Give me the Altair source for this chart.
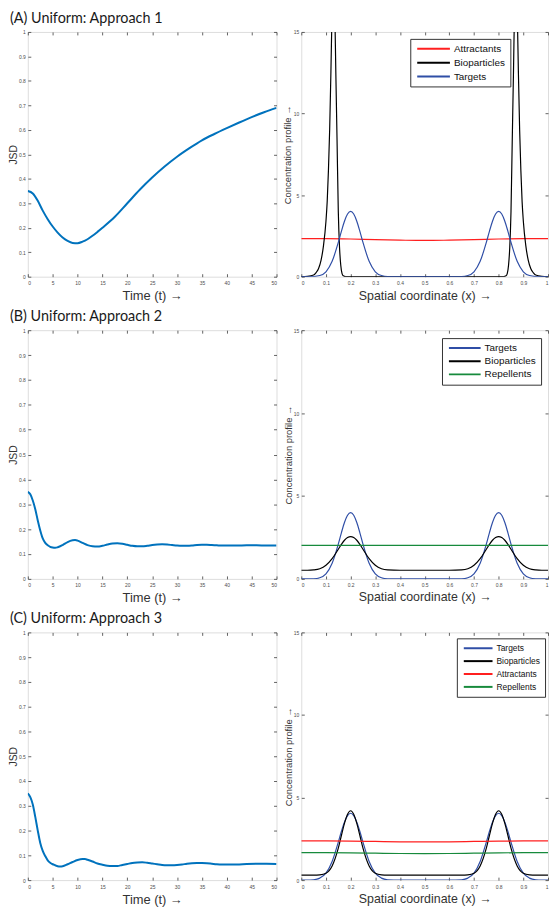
import altair as alt
import pandas as pd

# ---------------- JSD time series (left column) ----------------
t_A = [0, 1, 2, 3, 4, 5, 6, 7, 8, 9, 10, 11, 12, 13, 14, 15, 17.5, 20, 22.5, 25,
       27.5, 30, 32.5, 35, 37.5, 40, 42.5, 45, 47.5, 50]
jsd_A = [0.35, 0.34, 0.31, 0.27, 0.235, 0.205, 0.18, 0.16, 0.146, 0.138, 0.137, 0.143,
         0.153, 0.167, 0.183, 0.2, 0.245, 0.3, 0.355, 0.405, 0.45, 0.49, 0.525, 0.557,
         0.583, 0.607, 0.63, 0.652, 0.672, 0.69]

t_B = [0, 0.5, 1, 1.5, 2, 2.5, 3, 3.5, 4, 4.5, 5, 5.5, 6, 7, 8, 9, 9.5, 10, 11, 12,
       13, 14, 15, 16, 17, 18, 19, 20, 21, 22, 23, 24, 25, 26, 27, 28, 29, 30, 31, 32,
       33, 34, 35, 36, 37, 38, 39, 40, 42, 44, 46, 48, 50]
jsd_B = [0.35, 0.34, 0.315, 0.28, 0.235, 0.195, 0.163, 0.145, 0.135, 0.129, 0.126, 0.125,
         0.127, 0.136, 0.148, 0.155, 0.156, 0.154, 0.145, 0.136, 0.131, 0.13, 0.133, 0.138,
         0.142, 0.143, 0.141, 0.137, 0.133, 0.131, 0.131, 0.133, 0.136, 0.138, 0.139, 0.138,
         0.136, 0.134, 0.133, 0.133, 0.134, 0.136, 0.137, 0.137, 0.136, 0.135, 0.134, 0.134,
         0.134, 0.135, 0.135, 0.134, 0.134]

t_C = [0, 0.5, 1, 1.5, 2, 2.5, 3, 3.5, 4, 4.5, 5, 5.5, 6, 6.5, 7, 8, 9, 10, 11, 11.5,
       12, 13, 14, 15, 16, 17, 18, 19, 20, 21, 22, 23, 24, 25, 26, 27, 28, 29, 30, 31,
       32, 33, 34, 35, 36, 37, 38, 39, 40, 42, 44, 46, 48, 50]
jsd_C = [0.35, 0.335, 0.305, 0.255, 0.2, 0.15, 0.118, 0.097, 0.08, 0.07, 0.064, 0.06,
         0.056, 0.055, 0.056, 0.064, 0.073, 0.081, 0.085, 0.085, 0.082, 0.075, 0.067, 0.062,
         0.058, 0.057, 0.057, 0.061, 0.065, 0.069, 0.071, 0.072, 0.07, 0.067, 0.064, 0.061,
         0.06, 0.06, 0.061, 0.063, 0.066, 0.068, 0.069, 0.069, 0.068, 0.066, 0.064, 0.063,
         0.063, 0.063, 0.065, 0.066, 0.066, 0.065]

# ---------------- concentration profiles (right column) ----------------
x_grid = [0.0, 0.025, 0.05, 0.075, 0.1, 0.125, 0.15, 0.1625, 0.175, 0.1875, 0.2, 0.2125,
          0.225, 0.2375, 0.25, 0.275, 0.3, 0.325, 0.35, 0.4, 0.5, 0.6, 0.65, 0.675, 0.7,
          0.725, 0.75, 0.7625, 0.775, 0.7875, 0.8, 0.8125, 0.825, 0.8375, 0.85, 0.875, 0.9,
          0.925, 0.95, 0.975, 1.0]
targets_AB = [0, 0, 0.01, 0.07, 0.30, 0.94, 2.10, 2.78, 3.40, 3.84, 4.0, 3.84, 3.40, 2.78,
              2.10, 0.94, 0.30, 0.07, 0.01, 0, 0, 0, 0.01, 0.07, 0.30, 0.94, 2.10, 2.78,
              3.40, 3.84, 4.0, 3.84, 3.40, 2.78, 2.10, 0.94, 0.30, 0.07, 0.01, 0, 0]
bio_B = [0.52, 0.52, 0.54, 0.61, 0.82, 1.22, 1.79, 2.08, 2.33, 2.49, 2.55, 2.49, 2.33, 2.08,
         1.79, 1.22, 0.82, 0.61, 0.54, 0.52, 0.52, 0.52, 0.54, 0.61, 0.82, 1.22, 1.79, 2.08,
         2.33, 2.49, 2.55, 2.49, 2.33, 2.08, 1.79, 1.22, 0.82, 0.61, 0.54, 0.52, 0.52]
targets_C = [0, 0, 0.02, 0.12, 0.42, 1.13, 2.30, 2.95, 3.51, 3.90, 4.05, 3.90, 3.51, 2.95,
             2.30, 1.13, 0.42, 0.12, 0.02, 0, 0, 0, 0.02, 0.12, 0.42, 1.13, 2.30, 2.95,
             3.51, 3.90, 4.05, 3.90, 3.51, 2.95, 2.30, 1.13, 0.42, 0.12, 0.02, 0, 0]
bio_C = [0.3, 0.3, 0.3, 0.32, 0.42, 0.86, 1.94, 2.70, 3.44, 3.99, 4.2, 3.99, 3.44, 2.70,
         1.94, 0.86, 0.42, 0.32, 0.3, 0.3, 0.3, 0.3, 0.3, 0.32, 0.42, 0.86, 1.94, 2.70,
         3.44, 3.99, 4.2, 3.99, 3.44, 2.70, 1.94, 0.86, 0.42, 0.32, 0.3, 0.3, 0.3]

x_bio_A = [0, 0.025, 0.05, 0.06, 0.07, 0.08, 0.09, 0.1, 0.105, 0.11, 0.115, 0.12, 0.125,
           0.13, 0.135, 0.14, 0.145, 0.15, 0.155, 0.16, 0.165, 0.17, 0.18, 0.2, 0.5, 0.8,
           0.82, 0.83, 0.835, 0.84, 0.845, 0.85, 0.855, 0.86, 0.865, 0.87, 0.875, 0.88,
           0.885, 0.89, 0.895, 0.9, 0.91, 0.92, 0.93, 0.94, 0.95, 0.975, 1.0]
bio_A = [0, 0.02, 0.1, 0.25, 0.5, 1.0, 1.9, 3.4, 4.6, 6.5, 9.0, 12.5, 16.5, 19.0, 17.0,
         12.5, 8.3, 4.0, 1.8, 0.7, 0.2, 0.05, 0, 0, 0, 0, 0, 0.05, 0.2, 0.7, 1.8, 4.0, 8.3,
         12.5, 17.0, 19.0, 16.5, 12.5, 9.0, 6.5, 4.6, 3.4, 1.9, 1.0, 0.5, 0.25, 0.1, 0.02, 0]

x_flat = [0, 0.1, 0.2, 0.3, 0.4, 0.5, 0.6, 0.7, 0.8, 0.9, 1.0]
attr_A = [2.33, 2.33, 2.31, 2.27, 2.24, 2.22, 2.24, 2.27, 2.31, 2.33, 2.33]
rep_B = [2.02, 2.02, 2.02, 2.02, 2.02, 2.02, 2.02, 2.02, 2.02, 2.02, 2.02]
attr_C = [2.37, 2.37, 2.36, 2.34, 2.32, 2.31, 2.32, 2.34, 2.36, 2.37, 2.37]
rep_C = [1.66, 1.66, 1.65, 1.63, 1.61, 1.60, 1.61, 1.63, 1.65, 1.66, 1.66]

T_TICKS = [0, 5, 10, 15, 20, 25, 30, 35, 40, 45, 50]
JSD_TICKS = [0, 0.1, 0.2, 0.3, 0.4, 0.5, 0.6, 0.7, 0.8, 0.9, 1]
X_TICKS = [0, 0.1, 0.2, 0.3, 0.4, 0.5, 0.6, 0.7, 0.8, 0.9, 1]
C_TICKS = [0, 5, 10, 15]

COLORS = {"Attractants": "#ff1f1f", "Bioparticles": "#000000",
          "Targets": "#2f4ea6", "Repellents": "#178a3c"}

FONT = "Liberation Sans"
AXC = "#3a3a3a"
LABC = "#4d4d4d"


def mk_axis(orient, values, fmt=None, title=None, tsize=12, tx=None, ty=None,
            labels=True, lpad=3):
    kw = dict(orient=orient, values=values, domain=False, grid=False, ticks=True,
              tickSize=3, tickWidth=0.8, tickColor=AXC, offset=-3, labels=labels,
              minExtent=0, maxExtent=200)
    if labels:
        kw.update(format=fmt, labelFont=FONT, labelFontSize=5, labelColor=LABC,
                  labelPadding=lpad)
    if title:
        kw.update(title=title, titleFont=FONT, titleFontSize=tsize,
                  titleFontWeight="normal", titleColor="#333333",
                  titleBaseline="middle")
        if tx is not None:
            kw["titleX"] = tx
        if ty is not None:
            kw["titleY"] = ty
    else:
        kw["title"] = None
    return alt.Axis(**kw)


def row_title(text):
    return alt.TitleParams(text=text, anchor="start", frame="group", dx=-18, offset=4,
                           fontSize=14.5, font="Lato", fontWeight="normal",
                           color="#1a1a1a")


def jsd_panel(t, v, w, h, text, tx, ty):
    df = pd.DataFrame({"t": t, "v": v})
    xsc = alt.Scale(domain=[0, 50], nice=False)
    ysc = alt.Scale(domain=[0, 1], nice=False)
    line = alt.Chart(df).mark_line(color="#0072BD", strokeWidth=2, interpolate="monotone",
                                   clip=True).encode(
        x=alt.X("t:Q", scale=xsc,
                axis=mk_axis("bottom", T_TICKS, "~g", "Time (t) →", 13, ty=ty, lpad=4)),
        y=alt.Y("v:Q", scale=ysc,
                axis=mk_axis("left", JSD_TICKS, ".1~f", "JSD", 10.5, tx=tx, lpad=2.5)),
    )
    ghost = alt.Chart(df).mark_point(opacity=0, size=1, clip=True).encode(
        x=alt.X("t:Q", scale=xsc, axis=mk_axis("top", T_TICKS, labels=False)),
        y=alt.Y("v:Q", scale=ysc, axis=mk_axis("right", JSD_TICKS, labels=False)),
    )
    return (alt.layer(line, ghost)
            .resolve_axis(x="independent", y="independent")
            .properties(width=w, height=h, title=row_title(text)))


def conc_panel(series, w, h, lx, ly, tx, ty, lfs, sym_len, rowpad):
    rows = []
    order = []
    for name, xs, ys in series:
        order.append(name)
        rows += [{"x": a, "y": b, "s": name} for a, b in zip(xs, ys)]
    df = pd.DataFrame(rows)
    xsc = alt.Scale(domain=[0, 1], nice=False)
    ysc = alt.Scale(domain=[0, 15], nice=False)
    half = sym_len / 8.0
    line = alt.Chart(df).mark_line(strokeWidth=1.2, interpolate="monotone",
                                   clip=True).encode(
        x=alt.X("x:Q", scale=xsc,
                axis=mk_axis("bottom", X_TICKS, ".1~f", "Spatial coordinate (x) →", 12.5,
                             ty=ty, lpad=4)),
        y=alt.Y("y:Q", scale=ysc,
                axis=mk_axis("left", C_TICKS, "~g", "Concentration profile →", 9.5,
                             tx=tx, lpad=2.5)),
        color=alt.Color("s:N",
                        scale=alt.Scale(domain=order, range=[COLORS[o] for o in order]),
                        legend=alt.Legend(orient="none", legendX=lx, legendY=ly,
                                          title=None,
                                          symbolType=f"M{-half},0H{half}",
                                          symbolSize=64, symbolStrokeWidth=2,
                                          symbolOffset=sym_len / 2.0 - 3,
                                          labelOffset=sym_len / 2.0 - 1,
                                          labelFont=FONT, labelFontSize=lfs,
                                          labelColor="#111111",
                                          padding=5, strokeColor="#333333",
                                          fillColor="white", rowPadding=rowpad)),
    )
    ghost = alt.Chart(df).mark_point(opacity=0, size=1, clip=True).encode(
        x=alt.X("x:Q", scale=xsc, axis=mk_axis("top", X_TICKS, labels=False)),
        y=alt.Y("y:Q", scale=ysc, axis=mk_axis("right", C_TICKS, labels=False)),
    )
    return (alt.layer(line, ghost)
            .resolve_axis(x="independent", y="independent")
            .properties(width=w, height=h))


left_A = jsd_panel(t_A, jsd_A, 251, 247, "(A) Uniform: Approach 1", -17.5, 22.5)
right_A = conc_panel([("Attractants", x_flat, attr_A),
                      ("Bioparticles", x_bio_A, bio_A),
                      ("Targets", x_grid, targets_AB)],
                     249, 247, 110, 7, -17, 22, 10, 33, 4)
left_B = jsd_panel(t_B, jsd_B, 251, 251, "(B) Uniform: Approach 2", -17.5, 21.5)
right_B = conc_panel([("Targets", x_grid, targets_AB),
                      ("Bioparticles", x_grid, bio_B),
                      ("Repellents", x_flat, rep_B)],
                     249, 251, 142, 8, -16, 20.5, 10, 32, 3.3)
left_C = jsd_panel(t_C, jsd_C, 251, 250, "(C) Uniform: Approach 3", -17.5, 22.5)
right_C = conc_panel([("Targets", x_grid, targets_C),
                      ("Bioparticles", x_grid, bio_C),
                      ("Attractants", x_flat, attr_C),
                      ("Repellents", x_flat, rep_C)],
                     249, 250, 157, 6, -15.5, 21.5, 8.5, 29, 3)

chart = (alt.concat(left_A, right_A, left_B, right_B, left_C, right_C,
                    columns=2, spacing={"row": 54, "column": 25}, bounds="flush")
         .resolve_scale(color="independent")
         .resolve_legend(color="independent")
         .properties(padding={"top": -2, "bottom": -2, "right": 0, "left": 0},
                     background="white")
         .configure_view(stroke="#444444", strokeWidth=1, fill="white")
         .configure(font=FONT))

chart.save("out.html", embed_options={"renderer": "svg", "actions": False})
